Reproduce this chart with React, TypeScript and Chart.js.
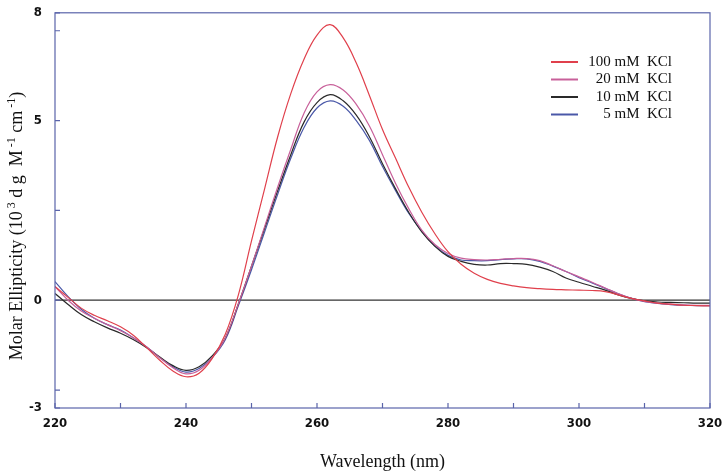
import React, { useEffect, useRef } from "react";
import { Chart, registerables } from "chart.js";

Chart.register(...registerables);

const wavelengths = [
  220, 222, 224, 226, 228, 230, 232, 234, 236, 238, 240, 242, 244, 246, 248, 250,
  252, 254, 256, 258, 260, 262, 264, 266, 268, 270, 272, 274, 276, 278, 280, 282,
  284, 286, 288, 290, 292, 294, 296, 298, 300, 302, 304, 306, 308, 310, 312, 314,
  316, 318, 320,
];

const kcl100 = [
  0.38, 0.08, -0.22, -0.42, -0.57, -0.74, -0.98, -1.32, -1.67, -1.97, -2.13, -2.03,
  -1.62, -0.95, 0.15, 1.65, 3.1, 4.55, 5.75, 6.7, 7.38, 7.67, 7.3, 6.6, 5.7, 4.75,
  3.95, 3.15, 2.45, 1.85, 1.35, 1.0, 0.75, 0.58, 0.47, 0.4, 0.35, 0.32, 0.3, 0.29,
  0.28, 0.27, 0.24, 0.15, 0.05, -0.02, -0.08, -0.11, -0.14, -0.15, -0.16,
];

const kcl20 = [
  0.38, 0.0, -0.3, -0.5, -0.68, -0.85, -1.05, -1.3, -1.6, -1.88, -2.05, -1.95, -1.6,
  -1.05, -0.1, 0.95, 2.05, 3.15, 4.2, 5.2, 5.8, 6.0, 5.85, 5.45, 4.85, 4.05, 3.25,
  2.55, 1.95, 1.55, 1.3, 1.17, 1.13, 1.12, 1.14, 1.16, 1.16, 1.1, 0.96, 0.8, 0.65,
  0.5, 0.34, 0.18, 0.05, -0.03, -0.08, -0.11, -0.13, -0.14, -0.14,
];

const kcl10 = [
  0.19, -0.12, -0.4, -0.6, -0.77, -0.92, -1.1, -1.32, -1.58, -1.82, -1.95, -1.85,
  -1.55, -1.05, -0.1, 0.95, 2.0, 3.05, 4.05, 4.95, 5.5, 5.72, 5.55, 5.15, 4.55, 3.8,
  3.1, 2.45, 1.9, 1.5, 1.22, 1.08, 1.0, 0.98, 1.02, 1.02, 1.0, 0.92, 0.8, 0.62,
  0.5, 0.39, 0.28, 0.15, 0.05, -0.02, -0.05, -0.06, -0.07, -0.08, -0.08,
];

const kcl5 = [
  0.52, 0.1, -0.25, -0.5, -0.68, -0.83, -1.05, -1.3, -1.6, -1.85, -2.0, -1.9, -1.6,
  -1.1, -0.15, 0.85, 1.9, 2.95, 3.95, 4.8, 5.35, 5.55, 5.4, 5.0, 4.45, 3.72, 3.05,
  2.42, 1.92, 1.52, 1.25, 1.12, 1.1, 1.1, 1.13, 1.15, 1.15, 1.08, 0.95, 0.8, 0.63,
  0.48, 0.33, 0.18, 0.05, -0.04, -0.09, -0.12, -0.14, -0.15, -0.15,
];

const seriesLabels = ["100 mM  KCl", "20 mM  KCl", "10 mM  KCl", "5 mM  KCl"];
const seriesColors = ["#e0404c", "#c8609a", "#2a2a2a", "#4a58a8"];
const seriesValues = [kcl100, kcl20, kcl10, kcl5];

const yTickValues = [-3, -2.5, 0, 2.5, 5, 7.5, 8];
const yLabelValues = [-3, 0, 5, 8];
const xLabelValues = [220, 240, 260, 280, 300, 320];

// y-axis title pieces: [text, isSuperscript]
const yTitleParts: [string, boolean][] = [
  ["Molar Ellipticity (10", false],
  [" 3", true],
  [" d g  M", false],
  [" -1", true],
  [" cm", false],
  [" -1", true],
  [")", false],
];

const AXIS_COLOR = "#5a64aa";
const TICK_FONT = "'Liberation Sans Narrow', 'DejaVu Sans Condensed', 'Arial Narrow', sans-serif";
const SERIF = "'Liberation Serif', 'Times New Roman', serif";

const framePlugin = {
  id: "frame",
  beforeDatasetsDraw(chart: any) {
    const { ctx, chartArea, scales } = chart;
    const y0 = scales.y.getPixelForValue(0);
    ctx.save();
    ctx.strokeStyle = "#333333";
    ctx.lineWidth = 1.2;
    ctx.beginPath();
    ctx.moveTo(chartArea.left, y0);
    ctx.lineTo(chartArea.right, y0);
    ctx.stroke();
    ctx.restore();
  },
  afterDraw(chart: any) {
    const { ctx, chartArea, scales } = chart;
    ctx.save();
    ctx.strokeStyle = AXIS_COLOR;
    ctx.lineWidth = 1.2;
    ctx.strokeRect(chartArea.left, chartArea.top, chartArea.right - chartArea.left, chartArea.bottom - chartArea.top);
    ctx.beginPath();
    scales.x.ticks.forEach((t: any) => {
      const px = scales.x.getPixelForValue(t.value);
      ctx.moveTo(px, chartArea.bottom);
      ctx.lineTo(px, chartArea.bottom - 5);
    });
    scales.y.ticks.forEach((t: any) => {
      const py = scales.y.getPixelForValue(t.value);
      ctx.moveTo(chartArea.left, py);
      ctx.lineTo(chartArea.left + 5, py);
    });
    ctx.stroke();

    // y-axis title with superscripts
    const normalFont = `18px ${SERIF}`;
    const supFont = `12px ${SERIF}`;
    let total = 0;
    yTitleParts.forEach(([t, sup]) => {
      ctx.font = sup ? supFont : normalFont;
      total += ctx.measureText(t).width;
    });
    ctx.save();
    ctx.translate(22, 226);
    ctx.rotate(-Math.PI / 2);
    ctx.fillStyle = "#111111";
    ctx.textAlign = "left";
    ctx.textBaseline = "alphabetic";
    let cx = -total / 2;
    yTitleParts.forEach(([t, sup]) => {
      ctx.font = sup ? supFont : normalFont;
      ctx.fillText(t, cx, sup ? -7 : 0);
      cx += ctx.measureText(t).width;
    });
    ctx.restore();

    // legend
    const lx = 551;
    const tx = 672;
    let ly = 62;
    ctx.font = `15px ${SERIF}`;
    ctx.textBaseline = "middle";
    ctx.textAlign = "right";
    chart.data.datasets.forEach((ds: any) => {
      ctx.strokeStyle = ds.borderColor;
      ctx.lineWidth = 2;
      ctx.beginPath();
      ctx.moveTo(lx, ly);
      ctx.lineTo(lx + 27, ly);
      ctx.stroke();
      ctx.fillStyle = "#111111";
      ctx.fillText(ds.label, tx, ly);
      ly += 17.5;
    });
    ctx.restore();
  },
};

export default function App() {
  const canvasRef = useRef<HTMLCanvasElement>(null);

  useEffect(() => {
    if (!canvasRef.current) return;
    const chart = new Chart(canvasRef.current, {
      type: "line",
      data: {
        datasets: seriesValues.map((vals, i) => ({
          label: seriesLabels[i],
          data: wavelengths.map((w, j) => ({ x: w, y: vals[j] })),
          borderColor: seriesColors[i],
          backgroundColor: seriesColors[i],
          borderWidth: 1.2,
          pointRadius: 0,
          tension: 0.4,
          fill: false,
        })),
      },
      options: {
        animation: false,
        responsive: false,
        layout: { padding: { top: 7, right: 15, left: 0, bottom: 0 } },
        plugins: {
          legend: { display: false },
          tooltip: { enabled: false },
        },
        scales: {
          x: {
            type: "linear",
            min: 220,
            max: 320,
            grid: { display: false },
            border: { display: false },
            ticks: {
              stepSize: 10,
              autoSkip: false,
              maxRotation: 0,
              padding: 0,
              color: "#111111",
              font: { family: TICK_FONT, size: 13, weight: "bold" },
              callback: (v: any) => (xLabelValues.includes(Number(v)) ? String(v) : ""),
            },
            title: {
              display: true,
              text: "Wavelength (nm)",
              color: "#111111",
              font: { family: SERIF, size: 18 },
              padding: { top: 0, bottom: 2 },
            },
            afterFit: (s: any) => {
              s.height = 67;
            },
          },
          y: {
            type: "linear",
            min: -3,
            max: 8,
            grid: { display: false },
            border: { display: false },
            afterBuildTicks: (s: any) => {
              s.ticks = yTickValues.map((v) => ({ value: v }));
            },
            ticks: {
              autoSkip: false,
              padding: 5,
              color: "#111111",
              font: { family: TICK_FONT, size: 13, weight: "bold" },
              callback: (v: any) => (yLabelValues.includes(Number(v)) ? String(v) : ""),
            },
            title: { display: false },
            afterFit: (s: any) => {
              s.width = 55;
            },
          },
        },
      },
      plugins: [framePlugin],
    });
    return () => chart.destroy();
  }, []);

  return (
    <div style={{ position: "absolute", left: 0, top: 0, width: 725, height: 475, background: "#ffffff" }}>
      <canvas ref={canvasRef} width={725} height={475} style={{ display: "block" }} />
    </div>
  );
}
